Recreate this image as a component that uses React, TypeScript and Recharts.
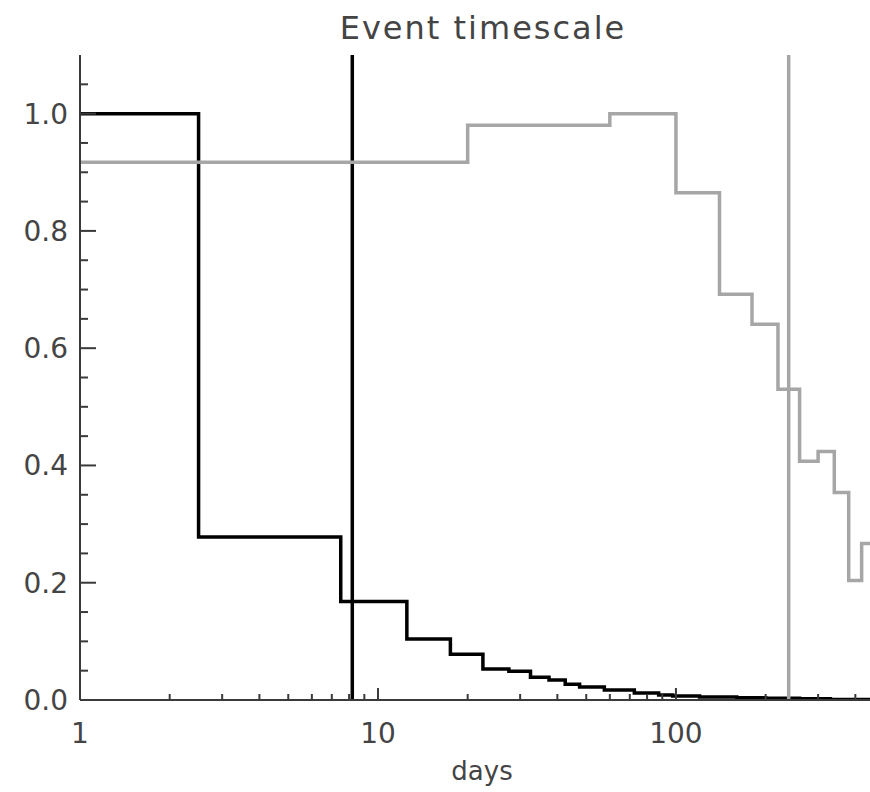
import { LineChart, Line, XAxis, YAxis, ReferenceLine } from "recharts";

// black histogram: bin edges (days) and fraction per bin
const BLACK_EDGES = [
  1, 2.5, 7.5, 12.5, 17.5, 22.5, 27.5, 32.5, 37.5, 42.5, 47.5, 57.5, 72.5,
  87.5, 97.5, 120, 160, 200, 260, 330, 448,
];
const BLACK_VALUES = [
  1.0, 0.278, 0.168, 0.104, 0.078, 0.053, 0.049, 0.039, 0.034, 0.027, 0.022,
  0.017, 0.012, 0.0085, 0.007, 0.005, 0.004, 0.003, 0.002, 0.001,
];

// grey histogram
const GREY_EDGES = [1, 20, 60, 100, 140, 180, 220, 260, 300, 340, 380, 420, 448];
const GREY_VALUES = [
  0.917, 0.98, 1.0, 0.865, 0.692, 0.641, 0.53, 0.407, 0.424, 0.354, 0.204, 0.267,
];

const BLACK_MARK = 8.2;
const GREY_MARK = 239;

const X_MAX = 448;
const X_TICKS = [
  1, 2, 3, 4, 5, 6, 7, 8, 9, 10, 20, 30, 40, 50, 60, 70, 80, 90, 100, 200, 300,
  400,
];
const X_LABELS = [1, 10, 100];
const Y_TICKS = [
  0, 0.05, 0.1, 0.15, 0.2, 0.25, 0.3, 0.35, 0.4, 0.45, 0.5, 0.55, 0.6, 0.65,
  0.7, 0.75, 0.8, 0.85, 0.9, 0.95, 1.0, 1.05,
];
const Y_LABELS = [0, 0.2, 0.4, 0.6, 0.8, 1.0];

const FONT = "'DejaVu Sans', sans-serif";
const TEXT = "#444";
const AXIS = "#3a3a3a";
const GREY = "#a6a6a6";

const steps = (edges: number[], values: number[]) =>
  edges.map((x, i) => ({ x, y: values[Math.min(i, values.length - 1)] }));

const blackData = steps(BLACK_EDGES, BLACK_VALUES);
const greyData = steps(GREY_EDGES, GREY_VALUES);

const isMajorY = (v: number) => Y_LABELS.some((m) => Math.abs(m - v) < 1e-6);

function BottomTick(props: any) {
  const { x, y, payload } = props;
  const major = X_LABELS.includes(payload.value);
  return (
    <g>
      <line x1={x} x2={x} y1={y} y2={y - (major ? 12 : 6)} stroke={AXIS} strokeWidth={2} />
      {major && (
        <text x={x} y={y + 43} textAnchor="middle" fontSize={28} fontFamily={FONT} fill={TEXT}>
          {payload.value}
        </text>
      )}
    </g>
  );
}

function TopTick(props: any) {
  const { x, y, payload } = props;
  const major = X_LABELS.includes(payload.value);
  return (
    <line x1={x} x2={x} y1={y} y2={y + (major ? 12 : 6)} stroke={AXIS} strokeWidth={2} />
  );
}

function LeftTick(props: any) {
  const { x, y, payload } = props;
  const major = isMajorY(payload.value);
  return (
    <g>
      <line x1={x} x2={x + (major ? 16 : 8)} y1={y} y2={y} stroke={AXIS} strokeWidth={2} />
      {major && (
        <text x={x - 12} y={y + 10} textAnchor="end" fontSize={28} fontFamily={FONT} fill={TEXT}>
          {payload.value.toFixed(1)}
        </text>
      )}
    </g>
  );
}

export default function App() {
  return (
    <div
      style={{
        position: "absolute",
        top: 0,
        left: 0,
        width: 870,
        height: 792,
        overflow: "hidden",
        background: "#fff",
      }}
    >
      <div
        style={{
          position: "absolute",
          top: 11,
          left: 0,
          width: 966,
          textAlign: "center",
          fontFamily: FONT,
          fontSize: 32,
          lineHeight: "34px",
          letterSpacing: 2,
          color: TEXT,
        }}
      >
        Event timescale
      </div>
      <LineChart
        width={870}
        height={792}
        margin={{ top: 55, right: 0, bottom: 0, left: 0 }}
      >
        <XAxis
          dataKey="x"
          type="number"
          scale="log"
          domain={[1, X_MAX]}
          allowDataOverflow
          ticks={X_TICKS}
          interval={0}
          height={92}
          tickSize={0}
          tickMargin={0}
          tickLine={false}
          tick={<BottomTick />}
          axisLine={{ stroke: AXIS, strokeWidth: 2 }}
        />
        <XAxis
          xAxisId="top"
          orientation="top"
          dataKey="x"
          type="number"
          scale="log"
          domain={[1, X_MAX]}
          allowDataOverflow
          ticks={X_TICKS}
          interval={0}
          height={0}
          tickSize={0}
          tickMargin={0}
          tickLine={false}
          tick={<TopTick />}
          axisLine={{ stroke: AXIS, strokeWidth: 2 }}
        />
        <YAxis
          type="number"
          domain={[0, 1.1]}
          allowDataOverflow
          ticks={Y_TICKS}
          interval={0}
          width={80}
          tickSize={0}
          tickMargin={0}
          tickLine={false}
          tick={<LeftTick />}
          axisLine={{ stroke: AXIS, strokeWidth: 2 }}
        />
        <Line
          data={blackData}
          dataKey="y"
          type="stepAfter"
          stroke="#000"
          strokeWidth={3.5}
          style={{ strokeWidth: 3.5 }}
          strokeLinejoin="miter"
          dot={false}
          isAnimationActive={false}
        />
        <ReferenceLine x={BLACK_MARK} stroke="#000" strokeWidth={3.5} />
        <Line
          data={greyData}
          dataKey="y"
          type="stepAfter"
          stroke={GREY}
          strokeWidth={3.5}
          style={{ strokeWidth: 3.5 }}
          strokeLinejoin="miter"
          dot={false}
          isAnimationActive={false}
        />
        <ReferenceLine x={GREY_MARK} stroke={GREY} strokeWidth={3.5} />
      </LineChart>
      <div
        style={{
          position: "absolute",
          top: 756,
          left: 382,
          width: 200,
          textAlign: "center",
          fontFamily: FONT,
          fontSize: 26,
          lineHeight: "30px",
          color: TEXT,
        }}
      >
        days
      </div>
    </div>
  );
}
